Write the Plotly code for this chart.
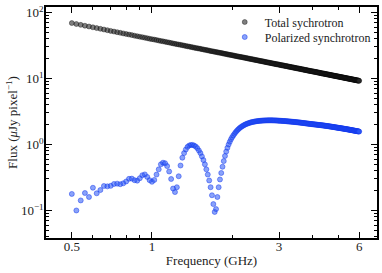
import plotly.graph_objects as go

freq_ghz = [
    0.50, 0.52, 0.54, 0.56, 0.58, 0.60, 0.62, 0.64, 0.66, 0.68,
    0.70, 0.72, 0.74, 0.76, 0.78, 0.80, 0.82, 0.84, 0.86, 0.88,
    0.90, 0.92, 0.94, 0.96, 0.98, 1.00, 1.02, 1.04, 1.06, 1.08,
    1.10, 1.12, 1.14, 1.16, 1.18, 1.20, 1.22, 1.24, 1.26, 1.28,
    1.30, 1.32, 1.34, 1.36, 1.38, 1.40, 1.42, 1.44, 1.46, 1.48,
    1.50, 1.52, 1.54, 1.56, 1.58, 1.60, 1.62, 1.64, 1.66, 1.68,
    1.70, 1.72, 1.74, 1.76, 1.78, 1.80, 1.82, 1.84, 1.86, 1.88,
    1.90, 1.92, 1.94, 1.96, 1.98, 2.00, 2.02, 2.04, 2.06, 2.08,
    2.10, 2.12, 2.14, 2.16, 2.18, 2.20, 2.22, 2.24, 2.26, 2.28,
    2.30, 2.32, 2.34, 2.36, 2.38, 2.40, 2.42, 2.44, 2.46, 2.48,
    2.50, 2.52, 2.54, 2.56, 2.58, 2.60, 2.62, 2.64, 2.66, 2.68,
    2.70, 2.72, 2.74, 2.76, 2.78, 2.80, 2.82, 2.84, 2.86, 2.88,
    2.90, 2.92, 2.94, 2.96, 2.98, 3.00, 3.02, 3.04, 3.06, 3.08,
    3.10, 3.12, 3.14, 3.16, 3.18, 3.20, 3.22, 3.24, 3.26, 3.28,
    3.30, 3.32, 3.34, 3.36, 3.38, 3.40, 3.42, 3.44, 3.46, 3.48,
    3.50, 3.52, 3.54, 3.56, 3.58, 3.60, 3.62, 3.64, 3.66, 3.68,
    3.70, 3.72, 3.74, 3.76, 3.78, 3.80, 3.82, 3.84, 3.86, 3.88,
    3.90, 3.92, 3.94, 3.96, 3.98, 4.00, 4.02, 4.04, 4.06, 4.08,
    4.10, 4.12, 4.14, 4.16, 4.18, 4.20, 4.22, 4.24, 4.26, 4.28,
    4.30, 4.32, 4.34, 4.36, 4.38, 4.40, 4.42, 4.44, 4.46, 4.48,
    4.50, 4.52, 4.54, 4.56, 4.58, 4.60, 4.62, 4.64, 4.66, 4.68,
    4.70, 4.72, 4.74, 4.76, 4.78, 4.80, 4.82, 4.84, 4.86, 4.88,
    4.90, 4.92, 4.94, 4.96, 4.98, 5.00, 5.02, 5.04, 5.06, 5.08,
    5.10, 5.12, 5.14, 5.16, 5.18, 5.20, 5.22, 5.24, 5.26, 5.28,
    5.30, 5.32, 5.34, 5.36, 5.38, 5.40, 5.42, 5.44, 5.46, 5.48,
    5.50, 5.52, 5.54, 5.56, 5.58, 5.60, 5.62, 5.64, 5.66, 5.68,
    5.70, 5.72, 5.74, 5.76, 5.78, 5.80, 5.82, 5.84, 5.86, 5.88,
    5.90, 5.92, 5.94, 5.96, 5.98, 6.00,
]

total_flux = [
    69.1, 66.9, 64.9, 63.0, 61.3, 59.6, 58.0, 56.6, 55.2, 53.9,
    52.6, 51.4, 50.3, 49.2, 48.2, 47.2, 46.3, 45.4, 44.5, 43.7,
    42.9, 42.2, 41.5, 40.7, 40.0, 39.4, 38.8, 38.2, 37.6, 37.0,
    36.5, 36.0, 35.5, 35.0, 34.5, 34.0, 33.5, 33.1, 32.7, 32.3,
    31.9, 31.5, 31.1, 30.7, 30.4, 30.0, 29.7, 29.3, 29.0, 28.7,
    28.4, 28.1, 27.8, 27.5, 27.2, 26.9, 26.7, 26.4, 26.1, 25.9,
    25.6, 25.4, 25.2, 24.9, 24.7, 24.5, 24.3, 24.1, 23.8, 23.6,
    23.4, 23.2, 23.0, 22.8, 22.7, 22.5, 22.3, 22.1, 21.9, 21.8,
    21.6, 21.4, 21.3, 21.1, 21.0, 20.8, 20.7, 20.5, 20.4, 20.2,
    20.1, 19.9, 19.8, 19.7, 19.5, 19.4, 19.3, 19.1, 19.0, 18.9,
    18.8, 18.6, 18.5, 18.4, 18.3, 18.2, 18.1, 17.9, 17.8, 17.7,
    17.6, 17.5, 17.4, 17.3, 17.2, 17.1, 17.0, 16.9, 16.8, 16.7,
    16.6, 16.5, 16.4, 16.4, 16.3, 16.2, 16.1, 16.0, 15.9, 15.8,
    15.8, 15.7, 15.6, 15.5, 15.4, 15.4, 15.3, 15.2, 15.1, 15.1,
    15.0, 14.9, 14.8, 14.8, 14.7, 14.6, 14.6, 14.5, 14.4, 14.3,
    14.3, 14.2, 14.2, 14.1, 14.0, 14.0, 13.9, 13.8, 13.8, 13.7,
    13.7, 13.6, 13.5, 13.5, 13.4, 13.4, 13.3, 13.2, 13.2, 13.1,
    13.1, 13.0, 13.0, 12.9, 12.9, 12.8, 12.8, 12.7, 12.7, 12.6,
    12.6, 12.5, 12.5, 12.4, 12.4, 12.3, 12.3, 12.2, 12.2, 12.1,
    12.1, 12.0, 12.0, 11.9, 11.9, 11.9, 11.8, 11.8, 11.7, 11.7,
    11.65, 11.6, 11.6, 11.5, 11.5, 11.44, 11.4, 11.4, 11.3, 11.3,
    11.25, 11.2, 11.2, 11.1, 11.1, 11.06, 11.0, 11.0, 10.95, 10.9,
    10.88, 10.85, 10.8, 10.77, 10.73, 10.70, 10.67, 10.63, 10.6, 10.56,
    10.53, 10.5, 10.47, 10.43, 10.4, 10.37, 10.34, 10.3, 10.27, 10.24,
    10.21, 10.18, 10.15, 10.11, 10.08, 10.05, 10.02, 9.99, 9.96, 9.94,
    9.91, 9.88, 9.85, 9.82, 9.79, 9.76, 9.73, 9.70, 9.68, 9.65,
    9.62, 9.59, 9.57, 9.54, 9.52, 9.49, 9.46, 9.43, 9.41, 9.38,
    9.35, 9.33, 9.30, 9.28, 9.25, 9.23,
]

polarized_flux = [
    0.178, 0.100, 0.142, 0.184, 0.160, 0.221, 0.182, 0.204, 0.235, 0.232,
    0.236, 0.252, 0.255, 0.250, 0.258, 0.275, 0.302, 0.304, 0.288, 0.283,
    0.308, 0.342, 0.352, 0.322, 0.288, 0.272, 0.290, 0.350, 0.420, 0.500,
    0.530, 0.520, 0.470, 0.390, 0.300, 0.215, 0.190, 0.225, 0.330, 0.480,
    0.630, 0.740, 0.840, 0.920, 0.965, 0.985, 0.985, 0.965, 0.930, 0.880,
    0.810, 0.740, 0.660, 0.580, 0.500, 0.420, 0.350, 0.285, 0.225, 0.170,
    0.125, 0.095, 0.105, 0.160, 0.225, 0.295, 0.370, 0.460, 0.560, 0.670,
    0.780, 0.890, 1.000, 1.100, 1.200, 1.290, 1.370, 1.450, 1.530, 1.600,
    1.670, 1.730, 1.790, 1.840, 1.890, 1.930, 1.970, 2.010, 2.040, 2.070,
    2.100, 2.120, 2.150, 2.170, 2.190, 2.200, 2.220, 2.230, 2.245, 2.255,
    2.265, 2.275, 2.280, 2.290, 2.295, 2.300, 2.305, 2.310, 2.312, 2.315,
    2.318, 2.320, 2.320, 2.322, 2.322, 2.322, 2.320, 2.320, 2.318, 2.315,
    2.313, 2.310, 2.306, 2.302, 2.298, 2.294, 2.290, 2.286, 2.282, 2.278,
    2.274, 2.270, 2.266, 2.262, 2.258, 2.250, 2.245, 2.240, 2.235, 2.230,
    2.225, 2.220, 2.215, 2.210, 2.205, 2.200, 2.195, 2.189, 2.184, 2.178,
    2.173, 2.167, 2.162, 2.156, 2.151, 2.145, 2.139, 2.133, 2.127, 2.121,
    2.115, 2.109, 2.103, 2.097, 2.091, 2.085, 2.079, 2.074, 2.068, 2.063,
    2.057, 2.052, 2.046, 2.041, 2.035, 2.030, 2.026, 2.021, 2.017, 2.012,
    2.008, 2.003, 1.999, 1.994, 1.990, 1.985, 1.980, 1.976, 1.971, 1.967,
    1.962, 1.958, 1.953, 1.949, 1.944, 1.940, 1.935, 1.930, 1.925, 1.920,
    1.915, 1.910, 1.905, 1.900, 1.895, 1.890, 1.885, 1.880, 1.875, 1.870,
    1.865, 1.860, 1.855, 1.850, 1.845, 1.840, 1.835, 1.830, 1.825, 1.820,
    1.815, 1.810, 1.805, 1.800, 1.795, 1.790, 1.786, 1.781, 1.777, 1.772,
    1.768, 1.763, 1.759, 1.754, 1.750, 1.745, 1.740, 1.736, 1.731, 1.727,
    1.722, 1.718, 1.713, 1.709, 1.704, 1.700, 1.696, 1.691, 1.687, 1.682,
    1.678, 1.673, 1.669, 1.664, 1.660, 1.655, 1.650, 1.646, 1.641, 1.637,
    1.632, 1.628, 1.623, 1.619, 1.614, 1.610, 1.606, 1.602, 1.598, 1.594,
    1.590, 1.586, 1.582, 1.578, 1.574, 1.570,
]

series_names = ["Total sychrotron", "Polarized synchrotron"]

x_tickvals = [0.5, 1, 3, 6]
x_ticktext = ["0.5", "1", "3", "6"]
x_minor = [0.4, 0.6, 0.7, 0.8, 0.9, 2, 4, 5, 7]

y_tickvals = [0.1, 1, 10, 100]
y_ticktext = ["10<sup>−1</sup>", "10<sup>0</sup>", "10<sup>1</sup>", "10<sup>2</sup>"]
y_minor = [m * d for d in (0.01, 0.1, 1, 10, 100) for m in range(2, 10)]

assert len(freq_ghz) == len(total_flux) == len(polarized_flux)

FONT = "Liberation Serif"
TXT = "#222"

fig = go.Figure()
fig.add_trace(go.Scatter(
    x=freq_ghz, y=total_flux, mode="markers", name=series_names[0],
    legend="legend",
    marker=dict(size=5, color="rgba(40,40,40,0.6)",
                line=dict(color="rgba(0,0,0,0.6)", width=0.6)),
))
fig.add_trace(go.Scatter(
    x=freq_ghz, y=polarized_flux, mode="markers", name=series_names[1],
    legend="legend2",
    marker=dict(size=5, color="rgba(40,85,245,0.55)",
                line=dict(color="rgba(20,55,235,0.8)", width=0.6)),
))

axis_common = dict(
    type="log", showgrid=False, zeroline=False, automargin=False,
    showline=True, linecolor="black", linewidth=1.5,
    mirror="allticks", ticks="inside", ticklen=6, tickwidth=1, tickcolor="black",
    tickfont=dict(family=FONT, size=13, color=TXT),
)

fig.update_xaxes(
    **axis_common,
    range=[-0.398, 0.845],
    tickmode="array", tickvals=x_tickvals, ticktext=x_ticktext,
    minor=dict(tickmode="array", tickvals=x_minor, ticks="inside", ticklen=3,
               tickwidth=1, tickcolor="black", showgrid=False),
    ticklabelstandoff=-4,
    title=dict(text="Frequency (GHz)", font=dict(family=FONT, size=13, color=TXT),
               standoff=3),
)
fig.update_yaxes(
    **axis_common,
    range=[-1.417, 2.083],
    tickmode="array", tickvals=y_tickvals, ticktext=y_ticktext,
    minor=dict(tickmode="array", tickvals=y_minor, ticks="inside", ticklen=3,
               tickwidth=1, tickcolor="black", showgrid=False),
    ticklabelstandoff=-2,
    title=dict(text="Flux (<i>μ</i>Jy pixel<sup>−1</sup>)",
               font=dict(family=FONT, size=13, color=TXT), standoff=0),
)

legend_style = dict(xanchor="left", yanchor="middle", bgcolor="rgba(0,0,0,0)",
                    font=dict(family=FONT, size=12, color=TXT), itemwidth=30)

fig.update_layout(
    width=382, height=273,
    margin=dict(l=46, r=5, t=7, b=35),
    paper_bgcolor="white", plot_bgcolor="white",
    font=dict(family=FONT, size=13, color=TXT),
    legend=dict(x=0.54, y=0.935, **legend_style),
    legend2=dict(x=0.54, y=0.870, **legend_style),
    showlegend=True,
)

fig.write_html("out.html", config={"displayModeBar": False},
               post_script="document.body.style.margin='0';")
